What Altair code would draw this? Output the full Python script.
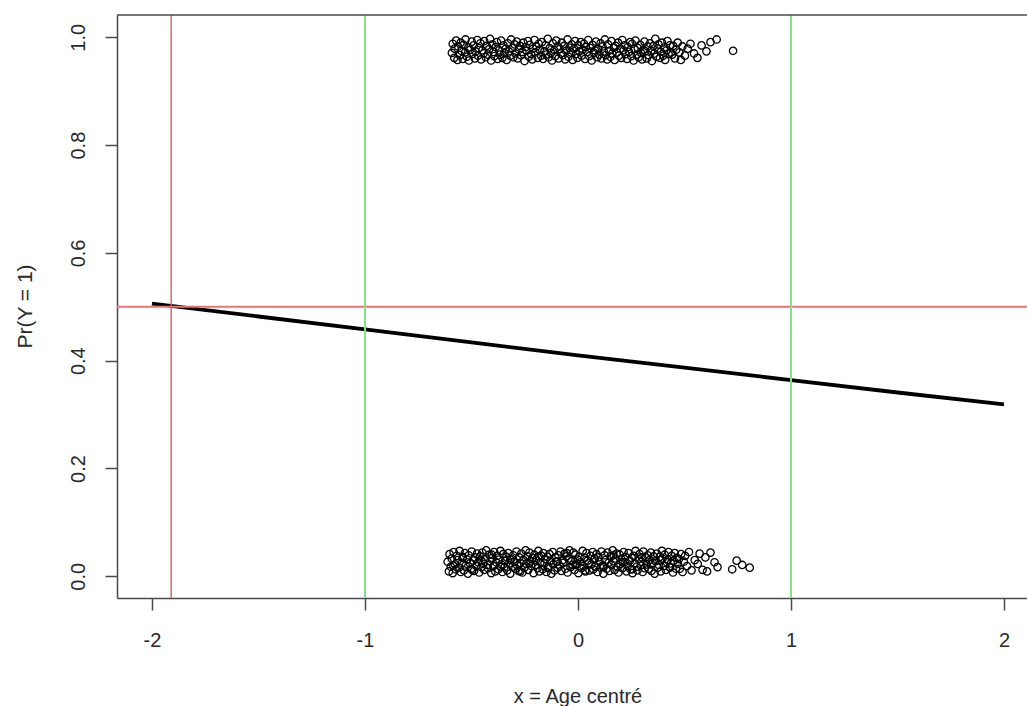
import altair as alt
import pandas as pd

# ---- data ----
top_x = [
    -0.592, -0.588, -0.581, -0.579, -0.572, -0.566, -0.563, -0.555, -0.551, -0.548,
    -0.541, -0.537, -0.530, -0.528, -0.521, -0.515, -0.512, -0.506, -0.499, -0.496,
    -0.490, -0.484, -0.481, -0.473, -0.470, -0.466, -0.458, -0.455, -0.449, -0.443,
    -0.440, -0.433, -0.429, -0.424, -0.417, -0.413, -0.408, -0.402, -0.397, -0.393,
    -0.386, -0.381, -0.377, -0.370, -0.366, -0.361, -0.355, -0.350, -0.346, -0.339,
    -0.335, -0.329, -0.325, -0.318, -0.314, -0.309, -0.303, -0.298, -0.294, -0.287,
    -0.283, -0.277, -0.272, -0.268, -0.261, -0.257, -0.251, -0.246, -0.242, -0.235,
    -0.231, -0.226, -0.220, -0.215, -0.211, -0.204, -0.200, -0.195, -0.189, -0.184,
    -0.180, -0.173, -0.169, -0.164, -0.158, -0.153, -0.149, -0.142, -0.138, -0.133,
    -0.127, -0.122, -0.118, -0.111, -0.107, -0.102, -0.096, -0.091, -0.087, -0.080,
    -0.076, -0.071, -0.065, -0.060, -0.056, -0.049, -0.045, -0.040, -0.034, -0.029,
    -0.025, -0.018, -0.014, -0.009, -0.003, 0.002, 0.006, 0.013, 0.017, 0.022,
    0.028, 0.033, 0.037, 0.044, 0.048, 0.053, 0.059, 0.064, 0.068, 0.075,
    0.079, 0.084, 0.090, 0.095, 0.099, 0.106, 0.110, 0.115, 0.121, 0.126,
    0.130, 0.137, 0.141, 0.146, 0.152, 0.157, 0.161, 0.168, 0.172, 0.177,
    0.183, 0.188, 0.192, 0.199, 0.203, 0.208, 0.214, 0.219, 0.223, 0.230,
    0.234, 0.239, 0.245, 0.250, 0.254, 0.261, 0.265, 0.270, 0.276, 0.281,
    0.285, 0.292, 0.296, 0.301, 0.307, 0.312, 0.316, 0.323, 0.327, 0.332,
    0.338, 0.343, 0.347, 0.354, 0.358, 0.363, 0.369, 0.374, 0.378, 0.385,
    0.389, 0.394, 0.400, 0.405, 0.409, 0.416, 0.420, 0.425, 0.431, 0.436,
    0.442, 0.447, 0.455, 0.461, 0.468, 0.476, 0.483, 0.490, 0.502, 0.515,
    0.528, 0.545, 0.561, 0.580, 0.603, 0.622, 0.651, 0.728,
]
top_y = [
    0.971, 0.988, 0.962, 0.979, 0.994, 0.958, 0.983, 0.967, 0.990, 0.975,
    0.960, 0.986, 0.972, 0.996, 0.964, 0.981, 0.957, 0.977, 0.992, 0.969,
    0.985, 0.961, 0.974, 0.995, 0.966, 0.980, 0.989, 0.959, 0.976, 0.970,
    0.993, 0.963, 0.984, 0.968, 0.978, 0.997, 0.957, 0.987, 0.973, 0.965,
    0.982, 0.991, 0.960, 0.976, 0.968, 0.994, 0.962, 0.985, 0.971, 0.979,
    0.958, 0.989, 0.974, 0.966, 0.996, 0.980, 0.963, 0.987, 0.970, 0.992,
    0.961, 0.977, 0.984, 0.967, 0.973, 0.990, 0.956, 0.982, 0.975, 0.993,
    0.964, 0.986, 0.969, 0.959, 0.979, 0.995, 0.972, 0.983, 0.962, 0.988,
    0.977, 0.966, 0.991, 0.960, 0.974, 0.985, 0.968, 0.997, 0.963, 0.980,
    0.971, 0.957, 0.989, 0.976, 0.965, 0.994, 0.983, 0.961, 0.978, 0.970,
    0.990, 0.967, 0.984, 0.959, 0.975, 0.996, 0.964, 0.981, 0.972, 0.987,
    0.958, 0.979, 0.993, 0.969, 0.962, 0.985, 0.974, 0.991, 0.966, 0.977,
    0.988, 0.960, 0.982, 0.973, 0.995, 0.965, 0.980, 0.957, 0.986, 0.971,
    0.976, 0.992, 0.963, 0.978, 0.968, 0.989, 0.961, 0.983, 0.974, 0.996,
    0.967, 0.959, 0.987, 0.975, 0.964, 0.993, 0.970, 0.981, 0.958, 0.984,
    0.972, 0.990, 0.966, 0.979, 0.962, 0.995, 0.976, 0.985, 0.969, 0.960,
    0.982, 0.973, 0.991, 0.965, 0.988, 0.957, 0.978, 0.994, 0.968, 0.980,
    0.963, 0.986, 0.971, 0.959, 0.977, 0.992, 0.974, 0.961, 0.983, 0.967,
    0.989, 0.975, 0.956, 0.984, 0.970, 0.997, 0.964, 0.979, 0.987, 0.962,
    0.973, 0.990, 0.966, 0.981, 0.958, 0.976, 0.993, 0.969, 0.985, 0.972,
    0.968, 0.984, 0.961, 0.977, 0.990, 0.972, 0.958, 0.983, 0.966, 0.979,
    0.988, 0.970, 0.962, 0.985, 0.974, 0.991, 0.996, 0.975,
]
bot_x = [
    -0.612, -0.606, -0.603, -0.597, -0.593, -0.588, -0.584, -0.577, -0.574, -0.569,
    -0.565, -0.558, -0.556, -0.550, -0.545, -0.541, -0.536, -0.531, -0.527, -0.520,
    -0.517, -0.513, -0.507, -0.502, -0.499, -0.492, -0.488, -0.484, -0.478, -0.474,
    -0.469, -0.464, -0.460, -0.454, -0.449, -0.446, -0.440, -0.436, -0.431, -0.425,
    -0.422, -0.417, -0.412, -0.407, -0.403, -0.397, -0.394, -0.388, -0.384, -0.379,
    -0.374, -0.370, -0.364, -0.360, -0.355, -0.351, -0.345, -0.342, -0.336, -0.332,
    -0.327, -0.322, -0.318, -0.313, -0.307, -0.304, -0.298, -0.294, -0.289, -0.285,
    -0.279, -0.276, -0.270, -0.266, -0.261, -0.256, -0.252, -0.246, -0.243, -0.237,
    -0.233, -0.228, -0.223, -0.219, -0.214, -0.209, -0.205, -0.199, -0.196, -0.190,
    -0.186, -0.181, -0.176, -0.172, -0.166, -0.163, -0.157, -0.153, -0.148, -0.143,
    -0.139, -0.134, -0.129, -0.125, -0.119, -0.116, -0.110, -0.106, -0.101, -0.096,
    -0.092, -0.087, -0.082, -0.078, -0.072, -0.069, -0.063, -0.059, -0.054, -0.049,
    -0.045, -0.040, -0.035, -0.031, -0.025, -0.022, -0.016, -0.012, -0.007, -0.002,
    0.002, 0.007, 0.012, 0.016, 0.022, 0.025, 0.031, 0.035, 0.040, 0.045,
    0.049, 0.054, 0.059, 0.063, 0.069, 0.072, 0.078, 0.082, 0.087, 0.092,
    0.096, 0.101, 0.106, 0.110, 0.116, 0.119, 0.125, 0.129, 0.134, 0.139,
    0.143, 0.148, 0.153, 0.157, 0.163, 0.166, 0.172, 0.176, 0.181, 0.186,
    0.190, 0.196, 0.199, 0.205, 0.209, 0.214, 0.219, 0.223, 0.228, 0.233,
    0.237, 0.243, 0.246, 0.252, 0.256, 0.261, 0.266, 0.270, 0.276, 0.279,
    0.285, 0.289, 0.294, 0.298, 0.304, 0.307, 0.313, 0.318, 0.322, 0.327,
    0.332, 0.336, 0.342, 0.345, 0.351, 0.355, 0.360, 0.364, 0.370, 0.374,
    0.379, 0.384, 0.388, 0.394, 0.397, 0.403, 0.407, 0.412, 0.417, 0.422,
    0.425, 0.431, 0.436, 0.440, 0.446, 0.449, 0.454, 0.460, 0.464, 0.469,
    0.474, 0.478, 0.484, 0.491, 0.497, 0.503, 0.512, 0.521, 0.533, 0.548,
    0.562, 0.571, 0.585, 0.598, 0.606, 0.622, 0.641, 0.655, 0.724, 0.745,
    0.771, 0.806,
    -0.585, -0.541, -0.497, -0.452, -0.405, -0.362, -0.318, -0.271, -0.229, -0.184,
    -0.142, -0.097, -0.053, -0.011, 0.034, 0.078, 0.121, 0.167, 0.211, 0.254,
    0.301, 0.343, 0.389, 0.432,
]
bot_y = [
    0.027, 0.009, 0.041, 0.018, 0.033, 0.006, 0.045, 0.022, 0.013, 0.038,
    0.030, 0.016, 0.047, 0.008, 0.025, 0.036, 0.011, 0.043, 0.020, 0.031,
    0.005, 0.039, 0.024, 0.014, 0.046, 0.029, 0.010, 0.035, 0.019, 0.042,
    0.026, 0.007, 0.037, 0.017, 0.044, 0.023, 0.012, 0.032, 0.048, 0.021,
    0.015, 0.040, 0.028, 0.006, 0.034, 0.019, 0.045, 0.009, 0.026, 0.038,
    0.013, 0.031, 0.047, 0.022, 0.008, 0.041, 0.017, 0.029, 0.036, 0.011,
    0.043, 0.024, 0.005, 0.033, 0.018, 0.039, 0.027, 0.014, 0.046, 0.020,
    0.010, 0.035, 0.025, 0.042, 0.007, 0.030, 0.016, 0.048, 0.023, 0.037,
    0.012, 0.044, 0.028, 0.019, 0.034, 0.006, 0.040, 0.021, 0.031, 0.015,
    0.047, 0.009, 0.026, 0.038, 0.013, 0.043, 0.024, 0.032, 0.008, 0.036,
    0.018, 0.041, 0.029, 0.005, 0.045, 0.022, 0.011, 0.035, 0.027, 0.016,
    0.039, 0.020, 0.046, 0.010, 0.030, 0.025, 0.042, 0.014, 0.037, 0.007,
    0.033, 0.048, 0.017, 0.028, 0.021, 0.044, 0.012, 0.040, 0.023, 0.031,
    0.006, 0.036, 0.026, 0.015, 0.047, 0.019, 0.034, 0.009, 0.043, 0.029,
    0.024, 0.011, 0.038, 0.022, 0.045, 0.013, 0.032, 0.018, 0.041, 0.008,
    0.035, 0.027, 0.016, 0.046, 0.020, 0.005, 0.039, 0.030, 0.014, 0.044,
    0.025, 0.010, 0.037, 0.021, 0.048, 0.028, 0.012, 0.033, 0.042, 0.017,
    0.007, 0.040, 0.023, 0.031, 0.015, 0.045, 0.026, 0.036, 0.009, 0.019,
    0.043, 0.029, 0.013, 0.034, 0.006, 0.038, 0.024, 0.047, 0.018, 0.011,
    0.032, 0.041, 0.020, 0.027, 0.008, 0.046, 0.015, 0.035, 0.022, 0.039,
    0.014, 0.030, 0.044, 0.010, 0.025, 0.037, 0.005, 0.028, 0.042, 0.016,
    0.021, 0.036, 0.009, 0.047, 0.033, 0.019, 0.040, 0.012, 0.026, 0.031,
    0.045, 0.017, 0.024, 0.038, 0.007, 0.029, 0.043, 0.014, 0.034, 0.023,
    0.032, 0.014, 0.041, 0.008, 0.027, 0.038, 0.019, 0.045, 0.011, 0.030,
    0.023, 0.042, 0.012, 0.035, 0.009, 0.044, 0.026, 0.017, 0.013, 0.029,
    0.021, 0.016,
    0.020, 0.034, 0.012, 0.028, 0.040, 0.017, 0.031, 0.009, 0.024, 0.037,
    0.015, 0.027, 0.043, 0.021, 0.011, 0.033, 0.019, 0.039, 0.026, 0.013,
    0.035, 0.022, 0.030, 0.016,
]
curve_x = [-2.0, -1.5, -1.0, -0.5, 0.0, 0.5, 1.0, 1.5, 2.0]
curve_p = [0.506, 0.482, 0.458, 0.434, 0.410, 0.387, 0.364, 0.341, 0.319]
green_x = [-1.0, 1.0]
red_vx = [-1.91]
red_hy = [0.5]
x_ticks = [-2, -1, 0, 1, 2]
y_ticks = [0.0, 0.2, 0.4, 0.6, 0.8, 1.0]

W, H = 910, 583
FONT = "Liberation Sans"
AX = "#4a4a4a"
TXT = "#2a2a2a"

pts = pd.DataFrame({"x": top_x + bot_x, "y": top_y + bot_y})
curve = pd.DataFrame({"x": curve_x, "p": curve_p})

xscale = alt.Scale(domain=[-2.1643, 2.108], nice=False, zero=False)
yscale = alt.Scale(domain=[-0.0403, 1.0414], nice=False, zero=False)

xaxis = alt.Axis(
    values=x_ticks, labelExpr="'' + datum.value", grid=False,
    domainColor=AX, domainWidth=1.5, tickColor=AX, tickWidth=1.5, tickSize=12,
    labelFont=FONT, labelFontSize=20, labelColor=TXT, labelBaseline="alphabetic",
    labelPadding=36.5, labelAngle=0, labelAlign="center",
    title="x = Age centré", titleFont=FONT, titleFontSize=20, titleFontWeight="normal",
    titleColor=TXT, titleBaseline="alphabetic", titleAlign="center",
    titleX=460.5, titleY=104,
)
yaxis = alt.Axis(
    values=y_ticks, format=".1f", grid=False,
    domainColor=AX, domainWidth=1.5, tickColor=AX, tickWidth=1.5, tickSize=12,
    labelFont=FONT, labelFontSize=20, labelColor=TXT, labelAngle=270,
    labelAlign="center", labelBaseline="alphabetic", labelPadding=20.8,
    title="Pr(Y = 1)", titleFont=FONT, titleFontSize=21, titleFontWeight="normal",
    titleColor=TXT, titleAngle=270, titleBaseline="alphabetic", titleAlign="center",
    titleX=-86, titleY=291,
)

points = alt.Chart(pts).mark_point(
    shape="circle", filled=False, size=55, color="black", strokeWidth=1.3, opacity=1
).encode(x=alt.X("x:Q", scale=xscale, axis=xaxis), y=alt.Y("y:Q", scale=yscale, axis=yaxis))

line = alt.Chart(curve).mark_line(color="black", strokeWidth=3.8).encode(
    x=alt.X("x:Q", scale=xscale), y=alt.Y("p:Q", scale=yscale)
)

hrule = alt.Chart(pd.DataFrame({"y": red_hy})).mark_rule(color="#f07078", strokeWidth=2).encode(
    y=alt.Y("y:Q", scale=yscale), x=alt.value(0), x2=alt.value(W)
)
vred = alt.Chart(pd.DataFrame({"x": red_vx})).mark_rule(color="#d06060", strokeWidth=1.4).encode(
    x=alt.X("x:Q", scale=xscale), y=alt.value(0), y2=alt.value(H)
)
vgreen = alt.Chart(pd.DataFrame({"x": green_x})).mark_rule(color="#88e088", strokeWidth=2).encode(
    x=alt.X("x:Q", scale=xscale), y=alt.value(0), y2=alt.value(H)
)
topline = alt.Chart(pd.DataFrame({"x": [0]})).mark_rule(color=AX, strokeWidth=1.5).encode(
    y=alt.value(0), x=alt.value(0), x2=alt.value(W)
)

chart = alt.layer(points, line, hrule, vred, vgreen, topline).properties(
    width=W, height=H,
    padding={"left": 117, "top": 15, "right": 0, "bottom": 108},
    autosize=alt.AutoSizeParams(type="none"),
    background="white",
).configure_view(stroke="transparent")

chart.save("out.html", embed_options={"renderer": "svg", "actions": False})
